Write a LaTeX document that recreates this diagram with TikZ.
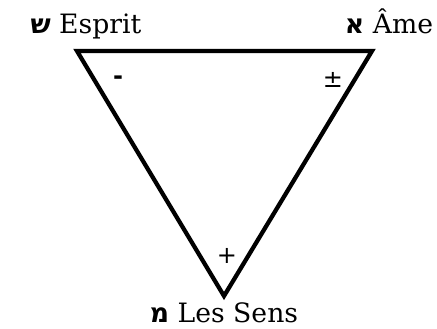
\documentclass[tikz,border=0pt]{standalone}
\usepackage{fontspec}
\setmainfont{DejaVu Serif}
\setsansfont{DejaVu Sans}
\newfontfamily\hebfont[Script=Hebrew]{DejaVu Sans}
\TeXXeTstate=1
\usepackage{tikz}
\usetikzlibrary{positioning,calc}

\tikzset{
  lbl/.style={font=\fontsize{20}{22}\selectfont, inner sep=0pt, anchor=base},
  sgn/.style={font=\sffamily\fontsize{18}{20}\selectfont, inner sep=0pt},
  edge/.style={line width=3.2pt, line join=miter}
}

\begin{document}
\begin{tikzpicture}[x=0.75pt, y=-0.75pt]
  \useasboundingbox (0,0) rectangle (437,329);
  % Vertices
  \coordinate (esprit) at (77,51);
  \coordinate (ame) at (372,51);
  \coordinate (sens) at (224,296);

  % Triangle
  \draw[edge] (esprit) -- (ame) -- (sens) -- cycle;

  % Labels
  \node[lbl] (lesprit) at (86,33) {{\hebfont\bfseries\beginR ש\endR} Esprit};
  \node[lbl] (lame) at (389,33) {{\hebfont\bfseries\beginR א\endR} Âme};
  \node[lbl] (lsens) at (224,322) {{\hebfont\bfseries\beginR מ\endR} Les Sens};

  % Signs
  \node[sgn, font=\sffamily\bfseries\fontsize{18}{20}\selectfont] (minus) at (118,80) {-};
  \node[sgn] (pm) at (333,80) {±};
  \node[sgn] (plus) at (227,256) {+};
\end{tikzpicture}
\end{document}
